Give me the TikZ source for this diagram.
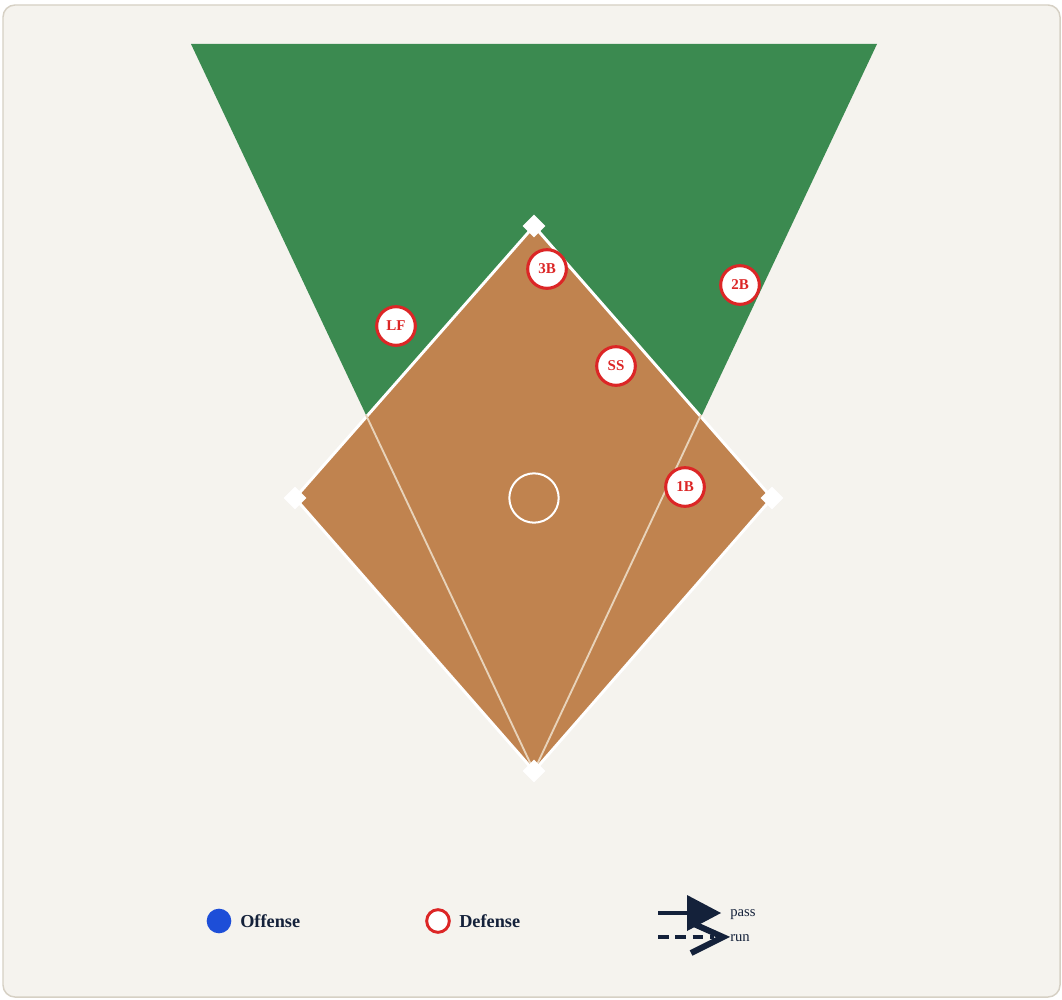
\documentclass[tikz,border=0pt]{standalone}
\usepackage{fontspec}
\setmainfont{Liberation Serif}
\definecolor{bgc}{HTML}{F5F3EE}
\definecolor{bgborder}{HTML}{D6D0C4}
\definecolor{grass}{HTML}{3B8A50}
\definecolor{dirt}{HTML}{C0834F}
\definecolor{faint}{HTML}{E8D3BA}
\definecolor{defred}{HTML}{DC2626}
\definecolor{offblue}{HTML}{1D4ED8}
\definecolor{ink}{HTML}{14213A}
\tikzset{
  player/.style={circle, draw=defred, line width=2.3pt, fill=white, minimum size=29pt, inner sep=0pt,
    text=defred, font=\fontsize{11.25}{12}\selectfont\bfseries},
  basebag/.style={rectangle, fill=white, minimum size=12pt, inner sep=0pt, rotate=45},
  legtext/.style={anchor=west, text=ink, font=\fontsize{13.7}{14}\selectfont\bfseries, inner sep=0pt},
  smalltext/.style={anchor=west, text=ink, font=\fontsize{11}{12}\selectfont, inner sep=0pt},
}
\begin{document}
\begin{tikzpicture}[x=0.75pt,y=-0.75pt]
\useasboundingbox (0,0) rectangle (1062,999);
\fill[white] (0,0) rectangle (1062,999);
\draw[bgborder, fill=bgc, line width=1.1pt, rounded corners=9pt] (3,5) rectangle (1060,997);

% coordinates
\coordinate (home) at (534,771);
\coordinate (first) at (772,498);
\coordinate (second) at (534,226);
\coordinate (third) at (295,498);
\coordinate (lfoul) at (191,44);
\coordinate (rfoul) at (877,44);
\coordinate (lcross) at (366,415);
\coordinate (rcross) at (701,415);

% outfield wedge
\fill[grass] (home) -- (lfoul) -- (rfoul) -- cycle;
% infield
\fill[dirt] (home) -- (first) -- (second) -- (third) -- cycle;
\draw[white, line width=2.2pt, line join=miter] (home) -- (first) -- (second) -- (third) -- cycle;
% faint lines
\draw[faint, line width=1.4pt] (home) -- (lcross);
\draw[faint, line width=1.4pt] (home) -- (rcross);

% pitcher circle
\node[circle, draw=white, line width=1.5pt, minimum size=37pt, inner sep=0pt] (mound) at (534,498) {};

% bases
\node[basebag] (b2) at (second) {};
\node[basebag] (b1) at (first) {};
\node[basebag] (b3) at (third) {};
\node[basebag] (bh) at (home) {};

% players
\node[player] (p3b) at (547,269) {3B};
\node[player] (p2b) at (740,285) {2B};
\node[player] (plf) at (396,326) {LF};
\node[player] (pss) at (616,366) {SS};
\node[player] (p1b) at (685,487) {1B};

% legend
\node[circle, fill=offblue, minimum size=18.5pt, inner sep=0pt] (offdot) at (219,921) {};
\node[legtext] (offtxt) at (240,921) {Offense};
\node[circle, draw=defred, line width=2.2pt, fill=white, minimum size=17pt, inner sep=0pt] (defdot) at (438,921) {};
\node[legtext] (deftxt) at (459,921) {Defense};

\coordinate (passS) at (658,913);
\coordinate (passE) at (690,913);
\draw[ink, line width=3pt] (passS) -- (passE);
\fill[ink] (687,895) -- (721,913) -- (687,931) -- cycle;
\coordinate (runS) at (658,937);
\coordinate (runE) at (714,937);
\draw[ink, line width=3pt, dash pattern=on 8pt off 5pt] (runS) -- (runE);
\draw[ink, line width=4.5pt, line cap=butt, line join=miter] (694,924) -- (723,937) -- (691,953);
\node[smalltext] (passtxt) at (730,915) {pass};
\node[smalltext] (runtxt) at (730,938) {run};
\end{tikzpicture}
\end{document}
